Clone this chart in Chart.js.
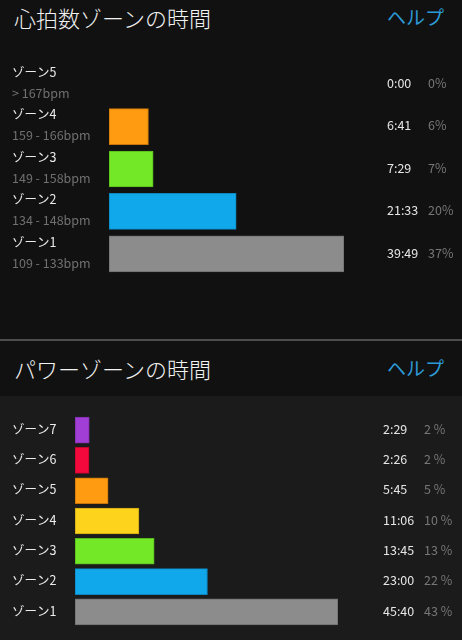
<!DOCTYPE html>
<html>
<head>
<meta charset="utf-8">
<script src="https://cdn.jsdelivr.net/npm/chart.js@4/dist/chart.umd.min.js"></script>
<style>
    body {
        margin: 0;
        width: 462px;
        height: 640px;
        background: #111111;
        overflow: hidden;
        position: relative;
        font-family: 'Noto Sans CJK JP', 'Noto Sans', sans-serif;
    }
    .header {
        position: absolute;
        left: 0;
        width: 462px;
        height: 34px;
    }
    .title {
        position: absolute;
        left: 14px;
        top: 0;
        font-size: 22px;
        line-height: 34px;
        font-weight: 300;
        color: #f2f2f2;
    }
    .help {
        position: absolute;
        left: 387px;
        top: 0;
        font-size: 19px;
        line-height: 34px;
        color: #2b9ad6;
    }
    .divider {
        position: absolute;
        left: 0;
        top: 339px;
        width: 462px;
        height: 2px;
        background: #4d4d4d;
    }
    .lower {
        position: absolute;
        left: 0;
        top: 396px;
        width: 462px;
        height: 244px;
        background: #1b1b1b;
    }
    canvas {
        position: absolute;
        left: 0;
    }
</style>
</head>
<body>
<div class="header" style="top:0px">
    <div class="title">心拍数ゾーンの時間</div>
    <div class="help">ヘルプ</div>
</div>
<div class="divider"></div>
<div class="lower"></div>
<div class="header" style="top:351px">
    <div class="title">パワーゾーンの時間</div>
    <div class="help">ヘルプ</div>
</div>
<canvas id="hrChart" style="top:55px" width="462" height="230"></canvas>
<canvas id="pwChart" style="top:405px" width="462" height="230"></canvas>

<script>
// heart rate zones
const hrZones = ['ゾーン5', 'ゾーン4', 'ゾーン3', 'ゾーン2', 'ゾーン1'];
const hrRanges = ['> 167bpm', '159 - 166bpm', '149 - 158bpm', '134 - 148bpm', '109 - 133bpm'];
const hrTimes = ['0:00', '6:41', '7:29', '21:33', '39:49'];
const hrPercents = ['0%', '6%', '7%', '20%', '37%'];

// power zones
const pwZones = ['ゾーン7', 'ゾーン6', 'ゾーン5', 'ゾーン4', 'ゾーン3', 'ゾーン2', 'ゾーン1'];
const pwTimes = ['2:29', '2:26', '5:45', '11:06', '13:45', '23:00', '45:40'];
const pwPercents = ['2 %', '2 %', '5 %', '10 %', '13 %', '22 %', '43 %'];

function toSeconds(t) {
    const parts = t.split(':');
    return parseInt(parts[0]) * 60 + parseInt(parts[1]);
}

const font13 = "12.5px 'Noto Sans CJK JP', 'Noto Sans', sans-serif";

const zoneText = {
    id: 'zoneText',
    afterDatasetsDraw(chart, args, opts) {
        const ctx = chart.ctx;
        const y = chart.scales.y;
        ctx.save();
        ctx.font = font13;
        ctx.textBaseline = 'middle';
        ctx.textAlign = 'left';
        opts.names.forEach((name, i) => {
            const cy = y.getPixelForValue(i);
            if (opts.subs) {
                ctx.fillStyle = '#ececec';
                ctx.fillText(name, 12, cy - 12);
                ctx.fillStyle = '#707070';
                ctx.fillText(opts.subs[i], 12, cy + 9);
            } else {
                ctx.fillStyle = '#ececec';
                ctx.fillText(name, 12, cy - 1);
            }
            ctx.fillStyle = '#e6e6e6';
            ctx.fillText(opts.times[i], opts.timeX, cy - 1);
            ctx.fillStyle = '#777777';
            ctx.fillText(opts.percents[i], opts.pctX, cy - 1);
        });
        ctx.restore();
    }
};

function makeChart(id, labels, times, colors, borders, thickness, padding, textOpts) {
    const values = times.map(toSeconds);
    return new Chart(document.getElementById(id), {
        type: 'bar',
        data: {
            labels: labels,
            datasets: [{
                data: values,
                backgroundColor: colors,
                borderColor: borders,
                borderWidth: 1,
                borderSkipped: false,
                barThickness: thickness
            }]
        },
        options: {
            indexAxis: 'y',
            responsive: false,
            animation: false,
            layout: { padding: padding },
            scales: {
                x: { display: false, min: 0, max: Math.max(...values) },
                y: { display: false }
            },
            plugins: {
                legend: { display: false },
                tooltip: { enabled: false },
                zoneText: textOpts
            }
        },
        plugins: [zoneText]
    });
}

makeChart('hrChart', hrZones, hrTimes,
    ['#ff9b10', '#ff9b10', '#72e827', '#11a8eb', '#8c8c8c'],
    ['#c8740a', '#c8740a', '#58b81c', '#0c86bd', '#6e6e6e'],
    36,
    { left: 109, right: 118, top: 8, bottom: 10 },
    { names: hrZones, subs: hrRanges, times: hrTimes, percents: hrPercents, timeX: 387, pctX: 428 });

makeChart('pwChart', pwZones, pwTimes,
    ['#a13ed5', '#f3093b', '#ff9b10', '#fdd31c', '#72e827', '#11a8eb', '#8c8c8c'],
    ['#7f2fa8', '#c0062e', '#c8740a', '#c9a614', '#58b81c', '#0c86bd', '#6e6e6e'],
    26,
    { left: 75, right: 124, top: 10, bottom: 8 },
    { names: pwZones, times: pwTimes, percents: pwPercents, timeX: 383, pctX: 424 });
</script>
</body>
</html>
